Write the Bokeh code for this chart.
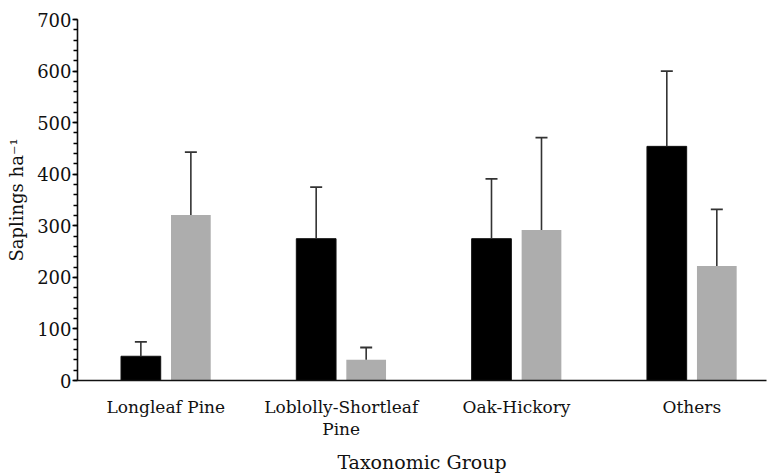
from bokeh.plotting import figure
from bokeh.models import (Range1d, FixedTicker, SingleIntervalTicker, Whisker,
                          ColumnDataSource, TeeHead)
from bokeh.embed import file_html
from bokeh.resources import INLINE

# ---- data ----
groups = ["Longleaf Pine", "Loblolly-Shortleaf\nPine", "Oak-Hickory", "Others"]
series_a_vals = [47, 275, 275, 454]      # black bars
series_a_err = [28, 100, 116, 146]
series_b_vals = [321, 40, 292, 222]      # grey bars
series_b_err = [122, 24, 179, 110]
y_ticks_interval = 100
x_title = "Taxonomic Group"
y_title = "Saplings ha\u207b\u00b9"

FONT = "DejaVu Serif"
BAR_W = 0.2265
OFF = 0.1426

pos = [i + 1 for i in range(len(groups))]

src_a = ColumnDataSource(dict(
    x=[p_ - OFF for p_ in pos], top=series_a_vals,
    upper=[v + e for v, e in zip(series_a_vals, series_a_err)]))
src_b = ColumnDataSource(dict(
    x=[p_ + OFF for p_ in pos], top=series_b_vals,
    upper=[v + e for v, e in zip(series_b_vals, series_b_err)]))

p = figure(width=767, height=475, output_backend="svg", toolbar_location=None,
           x_range=Range1d(0.496, 4.426), y_range=Range1d(0, 700),
           min_border_left=77, min_border_right=1, min_border_top=19,
           min_border_bottom=95)
p.outline_line_color = None
p.xgrid.grid_line_color = None
p.ygrid.grid_line_color = None
p.background_fill_color = "white"
p.border_fill_color = "white"

p.vbar(x="x", top="top", bottom=0, width=BAR_W, source=src_a,
       fill_color="#000000", line_color="#111111", line_width=1)
p.vbar(x="x", top="top", bottom=0, width=BAR_W, source=src_b,
       fill_color="#adadad", line_color=None)

for src in (src_a, src_b):
    w = Whisker(base="x", lower="top", upper="upper", source=src,
                line_color="#333333", line_width=1.6,
                upper_head=TeeHead(size=12, line_color="#333333", line_width=1.8),
                lower_head=None, level="overlay")
    p.add_layout(w)

# x axis
p.xaxis.ticker = FixedTicker(ticks=pos)
p.xaxis.major_label_overrides = {pos[i]: groups[i] for i in range(len(groups))}
p.xaxis.major_tick_out = 0
p.xaxis.major_tick_in = 0
p.xaxis.minor_tick_line_color = None
p.xaxis.axis_line_color = "#111111"
p.xaxis.axis_line_width = 1.6
p.xaxis.major_label_text_font = FONT
p.xaxis.major_label_text_font_size = "17px"
p.xaxis.major_label_text_color = "#111111"
p.xaxis.major_label_text_line_height = 1.1
p.xaxis.major_label_standoff = 16
p.xaxis.axis_label = x_title
p.xaxis.axis_label_text_font = FONT
p.xaxis.axis_label_text_font_size = "19px"
p.xaxis.axis_label_text_font_style = "normal"
p.xaxis.axis_label_text_color = "#111111"
p.xaxis.axis_label_text_line_height = 1.0
p.xaxis.axis_label_standoff = 9

# y axis
p.yaxis.ticker = SingleIntervalTicker(interval=y_ticks_interval, num_minor_ticks=5)
p.yaxis.major_tick_out = 5
p.yaxis.major_tick_in = 0
p.yaxis.minor_tick_out = 4
p.yaxis.minor_tick_in = 0
p.yaxis.major_tick_line_width = 1.5
p.yaxis.minor_tick_line_width = 1.5
p.yaxis.axis_line_color = "#111111"
p.yaxis.axis_line_width = 1.6
p.yaxis.major_label_text_font = FONT
p.yaxis.major_label_text_font_size = "18px"
p.yaxis.major_label_text_color = "#111111"
p.yaxis.major_label_standoff = 1
p.yaxis.axis_label = y_title
p.yaxis.axis_label_text_font = FONT
p.yaxis.axis_label_text_font_size = "18px"
p.yaxis.axis_label_text_font_style = "normal"
p.yaxis.axis_label_text_color = "#111111"
p.yaxis.axis_label_standoff = 7

open("out.html", "w").write(file_html(p, INLINE))
